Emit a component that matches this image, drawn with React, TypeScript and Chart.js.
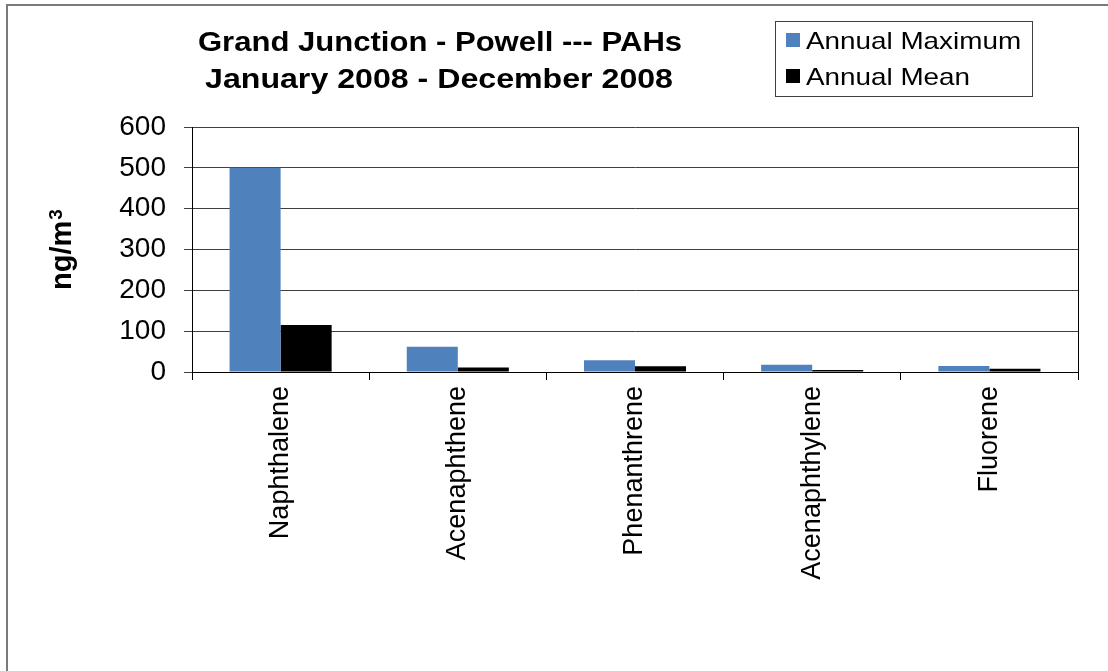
import React, { useEffect, useRef } from "react";
import { Chart, registerables } from "chart.js";

Chart.register(...registerables);

const categories = ["Naphthalene", "Acenaphthene", "Phenanthrene", "Acenaphthylene", "Fluorene"];
const annualMaximum = [500, 62, 29, 18, 15];
const annualMean = [115, 11, 14, 5, 8];
const yTicks = [0, 100, 200, 300, 400, 500, 600];
const titleLines = ["Grand Junction - Powell --- PAHs", "January 2008 - December 2008"];
const seriesLabels = ["Annual Maximum", "Annual Mean"];
const yAxisTitleBase = "ng/m";
const yAxisTitleSup = "3";

const FONT = "'Liberation Sans', Arial, sans-serif";

const decorPlugin = {
  id: "decor",
  beforeDraw(chart: any) {
    const ctx = chart.ctx;
    ctx.save();
    ctx.fillStyle = "#ffffff";
    ctx.fillRect(0, 0, chart.width, chart.height);
    ctx.strokeStyle = "#7a7a7a";
    ctx.lineWidth = 2;
    ctx.beginPath();
    ctx.moveTo(7, chart.height + 2);
    ctx.lineTo(7, 5);
    ctx.lineTo(chart.width + 2, 5);
    ctx.stroke();
    ctx.restore();
  },
  afterDraw(chart: any) {
    const ctx = chart.ctx;
    const area = chart.chartArea;
    ctx.save();
    ctx.strokeStyle = "#000000";
    ctx.lineWidth = 1;
    ctx.beginPath();
    ctx.moveTo(Math.round(area.right) + 0.5, area.top);
    ctx.lineTo(Math.round(area.right) + 0.5, area.bottom);
    ctx.stroke();

    // title
    ctx.fillStyle = "#000000";
    ctx.font = `bold 27px ${FONT}`;
    ctx.textAlign = "center";
    ctx.textBaseline = "alphabetic";
    const titlePos = [
      [440, 51],
      [439, 88],
    ];
    const titleScale = [1.15, 1.19];
    titleLines.forEach((t, i) => {
      ctx.save();
      ctx.translate(titlePos[i][0], titlePos[i][1]);
      ctx.scale(titleScale[i], 1);
      ctx.fillText(t, 0, 0);
      ctx.restore();
    });

    // y axis title with superscript
    ctx.save();
    ctx.translate(71, 250);
    ctx.rotate(-Math.PI / 2);
    ctx.textAlign = "left";
    ctx.textBaseline = "alphabetic";
    ctx.font = `bold 29px ${FONT}`;
    const w1 = ctx.measureText(yAxisTitleBase).width;
    ctx.font = `bold 19px ${FONT}`;
    const w2 = ctx.measureText(yAxisTitleSup).width;
    const start = -(w1 + w2) / 2;
    ctx.font = `bold 29px ${FONT}`;
    ctx.fillText(yAxisTitleBase, start, 0);
    ctx.font = `bold 19px ${FONT}`;
    ctx.fillText(yAxisTitleSup, start + w1 + 1, -9);
    ctx.restore();

    // legend
    ctx.strokeStyle = "#404040";
    ctx.lineWidth = 1;
    ctx.strokeRect(775.5, 21.5, 257, 75);
    const rows = [
      [33, 49],
      [69, 85],
    ];
    chart.data.datasets.forEach((ds: any, i: number) => {
      ctx.fillStyle = ds.backgroundColor;
      ctx.fillRect(786, rows[i][0], 14, 14);
      ctx.save();
      ctx.fillStyle = "#000000";
      ctx.font = `24px ${FONT}`;
      ctx.textAlign = "left";
      ctx.translate(806, rows[i][1]);
      ctx.scale(1.16, 1);
      ctx.fillText(ds.label, 0, 0);
      ctx.restore();
    });
    ctx.restore();
  },
};

export default function App() {
  const ref = useRef<HTMLCanvasElement>(null);

  useEffect(() => {
    if (!ref.current) return;
    const chart = new Chart(ref.current, {
      type: "bar",
      data: {
        labels: categories,
        datasets: [
          {
            label: seriesLabels[0],
            data: annualMaximum,
            backgroundColor: "#4F81BD",
            borderWidth: 0,
            categoryPercentage: 0.576,
            barPercentage: 1.0,
          },
          {
            label: seriesLabels[1],
            data: annualMean,
            backgroundColor: "#000000",
            borderWidth: 0,
            categoryPercentage: 0.576,
            barPercentage: 1.0,
          },
        ],
      },
      options: {
        responsive: false,
        animation: false,
        layout: { padding: { top: 127, right: 30, bottom: 0, left: 0 } },
        plugins: {
          legend: { display: false },
          title: { display: false },
          tooltip: { enabled: false },
        },
        scales: {
          x: {
            afterFit: (s: any) => {
              s.height = 299;
            },
            grid: {
              offset: true,
              drawOnChartArea: false,
              drawTicks: true,
              tickLength: 8,
              color: "#000000",
            },
            border: { display: true, color: "#000000", width: 1 },
            ticks: {
              minRotation: 90,
              maxRotation: 90,
              autoSkip: false,
              padding: 6,
              color: "#000000",
              font: { family: FONT, size: 27 },
            },
          },
          y: {
            min: 0,
            max: 600,
            afterFit: (s: any) => {
              s.width = 192;
            },
            afterBuildTicks: (s: any) => {
              s.ticks = yTicks.map((v) => ({ value: v }));
            },
            grid: {
              color: "#404040",
              drawTicks: true,
              tickLength: 8,
            },
            border: { display: true, color: "#000000", width: 1 },
            ticks: {
              padding: 18,
              color: "#000000",
              font: { family: FONT, size: 28 },
            },
          },
        },
      },
      plugins: [decorPlugin],
    });
    return () => chart.destroy();
  }, []);

  return (
    <div style={{ position: "fixed", left: 0, top: 0, width: 1108, height: 671, background: "#fff" }}>
      <canvas ref={ref} width={1108} height={671} style={{ display: "block", width: 1108, height: 671 }} />
    </div>
  );
}
